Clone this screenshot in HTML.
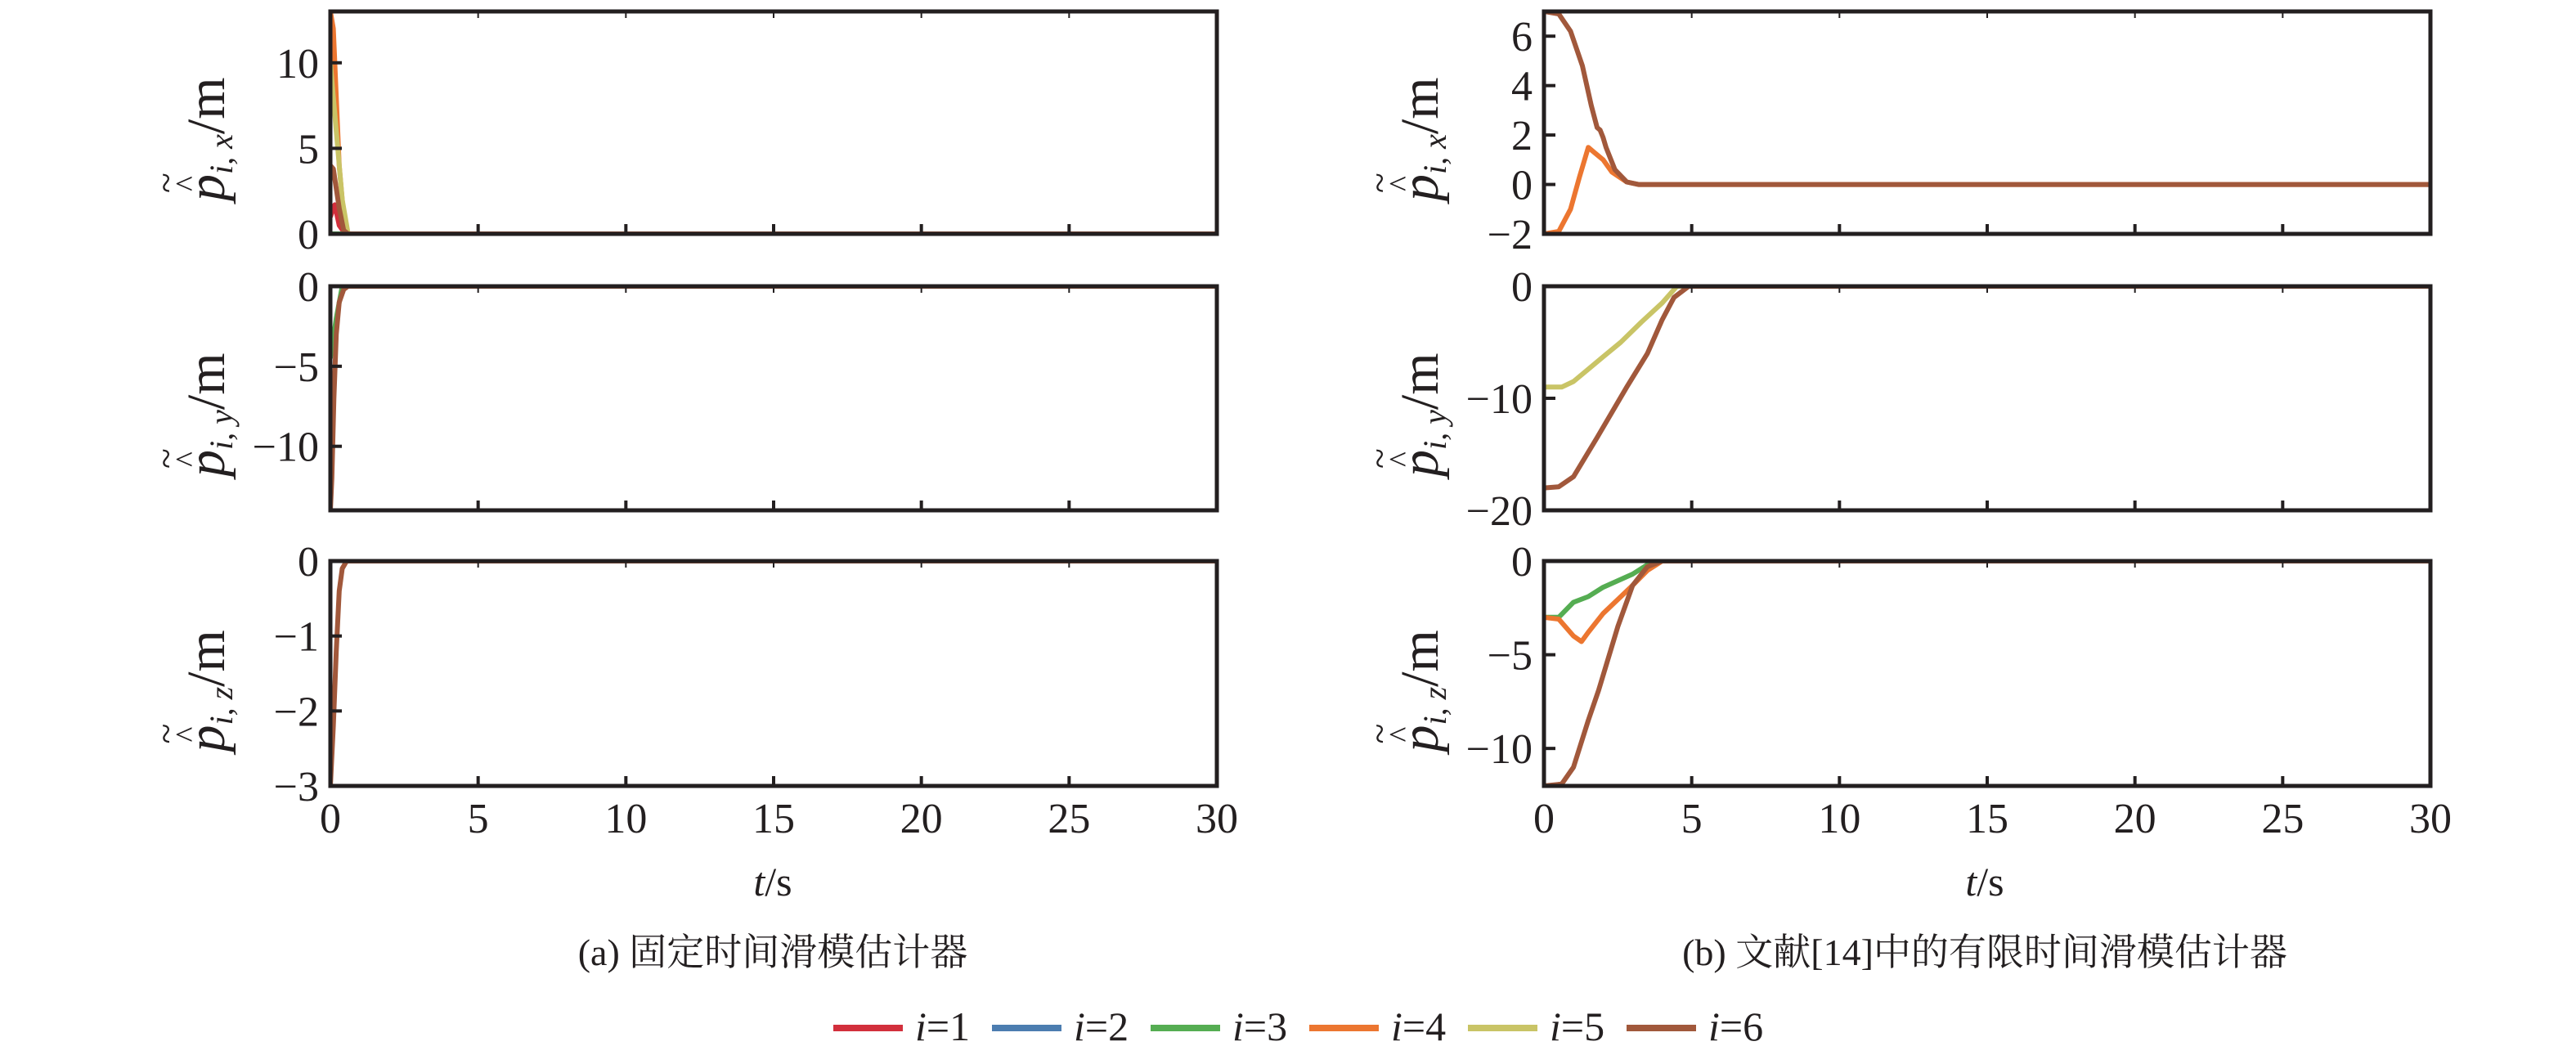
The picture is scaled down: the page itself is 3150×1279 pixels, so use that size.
<!DOCTYPE html>
<html><head><meta charset="utf-8"><style>
html,body{margin:0;padding:0;background:#fff;}
svg text{font-family:"Liberation Serif","Noto Serif CJK SC",serif;fill:#231f20;}
</style></head><body>
<svg id="chart" width="3150" height="1274" viewBox="0 0 3150 1274" xmlns="http://www.w3.org/2000/svg">
<g id="plots"></g>
<text x="945" y="1095" font-size="50" text-anchor="middle"><tspan font-style="italic">t</tspan>/s</text>
<text x="2427" y="1095" font-size="50" text-anchor="middle"><tspan font-style="italic">t</tspan>/s</text>
<text x="945" y="1180" font-size="46" text-anchor="middle">(a) 固定时间滑模估计器</text>
<text x="2427" y="1180" font-size="46" text-anchor="middle">(b) 文献[14]中的有限时间滑模估计器</text>
<g id="legend"></g>
</svg>
<script>
const colors=['#d22f3c','#4c7db0','#55ad52','#ec7630','#c9c466','#a1583b'];
const seriesNames=['i=1','i=2','i=3','i=4','i=5','i=6'];
const xTicks=[0,5,10,15,20,25,30];
// left column (a)
const aX_t=[[0,0.1,0.15,0.3,0.5,30],[0,0.3,30],[0,0.3,30],[0,0.1,0.3,0.5,30],[0,0.2,0.4,0.6,30],[0,0.1,0.3,0.45,0.6,30]];
const aX_v=[[1,1.5,1.7,0.5,0,0],[0,0,0],[0,0,0],[13,12,4,0,0],[10,6,2,0,0],[4,3.8,1.5,0.2,0,0]];
const aX_c=[0,1,2,3,4,5];
const aY_t=[[0,0.2,0.4,30],[0,0.05,0.12,0.2,0.3,0.45,0.6,30]];
const aY_v=[[-4.5,-2,0,0],[-14,-12,-7,-3,-1,-0.2,0,0]];
const aY_c=[2,5];
const aZ_t=[[0,0.1,0.2,0.3,0.4,0.55,30]];
const aZ_v=[[-3,-2.2,-1.2,-0.4,-0.1,0,0]];
// right column (b)
const bX_t=[[0,0.5,0.9,1.2,1.5,1.7,2.0,2.3,2.8,3.2,30],[0,0.5,0.9,1.3,1.6,1.8,1.9,2.0,2.1,2.4,2.8,3.2,30]];
const bX_v=[[-2,-1.9,-1,0.3,1.5,1.3,1,0.5,0.1,0,0],[7,6.9,6.2,4.8,3.2,2.3,2.2,1.9,1.5,0.6,0.1,0,0]];
const bX_c=[3,5];
const bY_t=[[0,0.6,1,1.5,2,2.6,3.3,4,4.5,30],[0,0.5,1,1.8,2.8,3.5,4,4.4,4.9,30]];
const bY_v=[[-9,-9,-8.5,-7.4,-6.3,-5,-3.2,-1.5,0,0],[-18,-17.9,-17,-13.5,-9,-6,-3,-1,0,0]];
const bY_c=[4,5];
const bZ_t=[[0,0.5,1,1.5,2,3,3.5,4,30],[0,0.5,1,1.27,1.5,2,3,3.5,4,30],[0,0.6,1,1.5,1.85,2.5,3,3.5,4,30]];
const bZ_v=[[-3,-3,-2.2,-1.9,-1.4,-0.7,-0.2,0,0],[-3,-3.1,-4,-4.3,-3.8,-2.8,-1.3,-0.5,0,0],[-12,-11.9,-11,-8.5,-6.9,-3.5,-1.3,-0.3,0,0]];
const bZ_c=[2,3,5];

const NS='http://www.w3.org/2000/svg';
const root=document.getElementById('plots');
function mk(tag,attrs,parent){const e=document.createElementNS(NS,tag);for(const k in attrs)e.setAttribute(k,attrs[k]);(parent||root).appendChild(e);return e;}
function panel(name,x0,x1,y0,y1,ymin,ymax,yTicks,ts,vs,cidx,axisLetter,showX){
  const g=mk('g',{});
  
  
  const sx=t=>x0+(t/30)*(x1-x0);
  const sy=v=>y1-(v-ymin)/(ymax-ymin)*(y1-y0);
  const clipId='c'+name;
  const cp=mk('clipPath',{id:clipId},g);mk('rect',{x:x0,y:y0,width:x1-x0,height:y1-y0},cp);
  const lg=mk('g',{'clip-path':'url(#'+clipId+')'},g);
  for(let s=0;s<ts.length;s++){
    let d='';for(let i=0;i<ts[s].length;i++){d+=(i?'L':'M')+sx(ts[s][i]).toFixed(1)+','+sy(vs[s][i]).toFixed(1);}
    const p=mk('path',{d:d,fill:'none',stroke:colors[cidx[s]],'stroke-width':6,'stroke-linejoin':'round'},lg);
    
    
  }
  const fr=mk('rect',{x:x0,y:y0,width:x1-x0,height:y1-y0,fill:'none',stroke:'#231f20','stroke-width':5},g);
  
  
  for(const t of xTicks){
    mk('line',{x1:sx(t),x2:sx(t),y1:y1,y2:y1-12,stroke:'#231f20','stroke-width':4},g);
    mk('line',{x1:sx(t),x2:sx(t),y1:y0,y2:y0+8,stroke:'#231f20','stroke-width':2},g);
    if(showX){const tx=mk('text',{x:sx(t),y:1018,'font-size':52,'text-anchor':'middle'},g);tx.textContent=t;
      
      }
  }
  for(const v of yTicks){
    mk('line',{x1:x0,x2:x0+14,y1:sy(v),y2:sy(v),stroke:'#231f20','stroke-width':4},g);
    const tx=mk('text',{x:x0-14,y:sy(v)+18,'font-size':52,'text-anchor':'end'},g);
    tx.textContent=v<0?'\u2212'+(-v):v;
    
    
  }
  const cy=(y0+y1)/2, lx=x0-130;
  const tg=mk('g',{transform:'translate('+lx+','+cy+') rotate(-90)'},g);
  
  
  const t1=mk('text',{x:-86,y:-56,'font-size':46},tg);t1.textContent='~';
  const t2=mk('text',{x:-84,y:-32,'font-size':40},tg);t2.textContent='^';
  const tt=mk('text',{x:-96,y:0,'font-size':66},tg);
  tt.innerHTML='<tspan font-style="italic">p</tspan><tspan font-size="40" dy="10" font-style="italic">i, '+axisLetter+'</tspan><tspan dy="-10">/m</tspan>';
}
const L=[404,1488],R=[1888,2972];
const Y=[[14,286],[350,624],[686,961]];
panel('panel-a-x',L[0],L[1],Y[0][0],Y[0][1],0,13,[0,5,10],aX_t,aX_v,aX_c,'x',false);
panel('panel-a-y',L[0],L[1],Y[1][0],Y[1][1],-14,0,[-10,-5,0],aY_t,aY_v,aY_c,'y',false);
panel('panel-a-z',L[0],L[1],Y[2][0],Y[2][1],-3,0,[-3,-2,-1,0],aZ_t,aZ_v,[5],'z',true);
panel('panel-b-x',R[0],R[1],Y[0][0],Y[0][1],-2,7,[-2,0,2,4,6],bX_t,bX_v,bX_c,'x',false);
panel('panel-b-y',R[0],R[1],Y[1][0],Y[1][1],-20,0,[-20,-10,0],bY_t,bY_v,bY_c,'y',false);
panel('panel-b-z',R[0],R[1],Y[2][0],Y[2][1],-12,0,[-10,-5,0],bZ_t,bZ_v,bZ_c,'z',true);
const leg=document.getElementById('legend');
for(let i=0;i<6;i++){
  const x=1019+i*194;
  const ln=mk('line',{x1:x,x2:x+85,y1:1257,y2:1257,stroke:colors[i],'stroke-width':8},leg);
  
  
  const tx=mk('text',{x:x+100,y:1272,'font-size':50},leg);
  tx.innerHTML='<tspan font-style="italic">i</tspan>='+(i+1);
  
  
}
</script>
</body></html>
